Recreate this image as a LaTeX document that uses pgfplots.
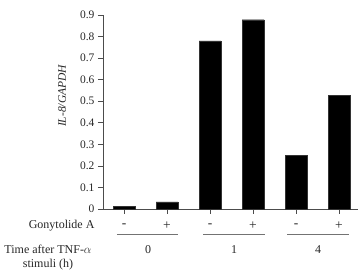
\documentclass[border=0pt]{standalone}
\usepackage{pgfplots}
\pgfplotsset{compat=1.18}
\usepackage{fontspec}
\setmainfont{Liberation Serif}
\begin{document}
\begin{tikzpicture}[x=1pt,y=1pt]
\useasboundingbox (-103,-61) rectangle (256,209);
\begin{axis}[
  at={(0,0)}, anchor=south west,
  scale only axis, width=255pt, height=194pt,
  xmin=-0.488, xmax=5.44, ymin=0, ymax=0.9,
  axis x line=bottom, axis y line=left,
  axis line style={-, black!70, line width=0.8pt},
  ytick={0,0.1,...,0.9},
  yticklabels={0,0.1,0.2,0.3,0.4,0.5,0.6,0.7,0.8,0.9},
  xtick={0,1,2,3,4,5}, xticklabels={},
  tick style={black!70, line width=0.6pt},
  tick align=outside, major tick length=5pt,
  yticklabel style={font=\fontsize{11.5}{13}\selectfont, text=black!85},
  /pgf/number format/assume math mode=true,
  clip=false,
]
\addplot[ybar, bar width=0.51, fill=black, draw=black!80, line width=0.4pt]
  coordinates {(0,0.012) (1,0.033) (2,0.78) (3,0.878) (4,0.25) (5,0.527)};
\end{axis}
\begin{scope}[font=\fontsize{12}{14}\selectfont, text=black!85]
\node[rotate=90, font=\fontsize{11.5}{14}\selectfont\itshape] at (-41,113) {IL-8/GAPDH};
\node[anchor=east] at (-5,-17) {Gonytolide A};
\foreach \x/\s in {21/-,64/+,107/-,150/+,193/-,236/+} \node[font=\fontsize{13.5}{15}\selectfont] at (\x,-16.5) {\s};
\draw[black!55, line width=0.8pt] (14,-25) -- (75,-25);
\draw[black!55, line width=0.8pt] (100,-25) -- (162,-25);
\draw[black!55, line width=0.8pt] (184,-25) -- (246,-25);
\node at (45,-41) {0};
\node at (131,-41) {1};
\node at (215,-41) {4};
\node[align=center, inner sep=0pt] at (-55,-49) {Time after TNF-$\alpha$\\stimuli (h)};
\end{scope}
\end{tikzpicture}
\end{document}
